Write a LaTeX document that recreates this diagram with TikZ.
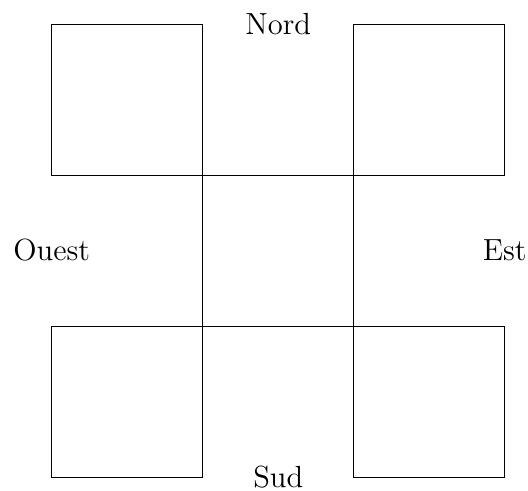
\documentclass[tikz,border=0pt]{standalone}
\usepackage{tikz}
\usetikzlibrary{positioning}
\tikzset{
  block/.style={draw=black},
  dirlabel/.style={font=\Large}
}
\begin{document}
\begin{tikzpicture}
    \useasboundingbox (-0.856,-0.232) rectangle (7.886,7.897);
    % Corner squares
    \draw[block] (0,5) rectangle (2.5,7.5);
    \draw[block] (5,5) rectangle (7.5,7.5);
    \draw[block] (0,0) rectangle (2.5,2.5);
    \draw[block] (5,0) rectangle (7.5,2.5);

    % Central crossing
    \draw[block] (2.5,2.5) rectangle (5,5);

    % Labels
    \node[dirlabel] (nord) at (3.75, 7.5) {Nord};
    \node[dirlabel] (sud) at (3.75, 0) {Sud};
    \node[dirlabel] (ouest) at (0, 3.75) {Ouest};
    \node[dirlabel] (est) at (7.5, 3.75) {Est};
\end{tikzpicture}
\end{document}
